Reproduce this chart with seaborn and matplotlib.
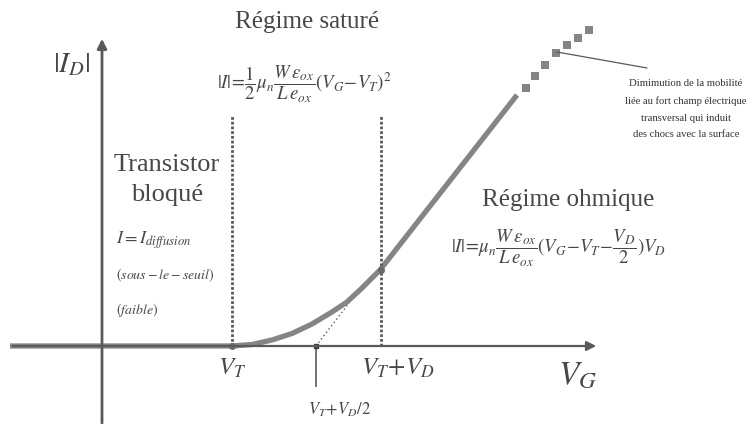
import matplotlib
matplotlib.use("Agg")
import matplotlib.pyplot as plt
import pandas as pd
import seaborn as sns

# |I_D| versus V_G for a MOS transistor (arbitrary units)
vg_curve = [-0.92, 1.30, 1.50, 1.70, 1.90, 2.10, 2.30, 2.45, 2.60, 2.78, 4.15]
id_curve = [0.00, 0.00, 0.015, 0.06, 0.125, 0.22, 0.34, 0.44, 0.58, 0.76, 2.51]

# high-field region: mobility degradation (drawn as dots)
vg_dots = [4.24, 4.33, 4.43, 4.54, 4.65, 4.76, 4.87]
id_dots = [2.58, 2.70, 2.81, 2.93, 3.01, 3.08, 3.16]

# characteristic gate voltages
v_t = 1.30          # V_T
v_t_vd = 2.79       # V_T + V_D
v_t_half = 2.14     # V_T + V_D/2
id_at_vtvd = 0.76

tick_labels = [r"$V_T$", r"$V_T\!+\!V_D$", r"$V_T\!+\!V_D/2$"]

sns.set_style("white")
plt.rcParams["font.family"] = ["Liberation Serif", "DejaVu Serif"]
plt.rcParams["mathtext.fontset"] = "stix"

TXT = "#474747"
AX = "#5a5a5a"
CURVE = "#858585"

fig = plt.figure(figsize=(7.52, 4.24), dpi=100)
ax = fig.add_axes([0, 0, 1, 1])
ax.set_xlim(-1.02, 6.50)
ax.set_ylim(-0.78, 3.46)
ax.axis("off")

# axes with arrow heads
ax.annotate("", xy=(0, 3.10), xytext=(0, -0.80),
            arrowprops=dict(arrowstyle="-|>", lw=2.0, color=AX, mutation_scale=14))
ax.annotate("", xy=(4.97, 0), xytext=(-0.92, 0),
            arrowprops=dict(arrowstyle="-|>", lw=1.6, color=AX, mutation_scale=14))

# characteristic curve
df_curve = pd.DataFrame({"VG": vg_curve, "ID": id_curve})
sns.lineplot(data=df_curve, x="VG", y="ID", ax=ax, color=CURVE, lw=3.8,
             sort=False, estimator=None, solid_capstyle="butt",
             solid_joinstyle="round")
df_dots = pd.DataFrame({"VG": vg_dots, "ID": id_dots})
sns.scatterplot(data=df_dots, x="VG", y="ID", ax=ax, color=CURVE, marker="s",
                s=28, linewidth=0)

# guide lines
ax.vlines([v_t, v_t_vd], 0, 2.31, colors=AX, linestyles=[(0, (1, 0.7))], lw=2.0)
ax.vlines(v_t_half, -0.41, 0, colors=AX, lw=1.2)
ax.plot([v_t_half, 2.47], [0, 0.43], ls=(0, (1, 2)), lw=1.0, color=AX)
ax.plot([v_t, v_t_vd], [0, id_at_vtvd], ls="none", marker="o", ms=4,
        color="#6a6a6a")
ax.plot([v_t_half], [0], ls="none", marker="s", ms=3.5, color="#3f3f3f")

# annotation pointer
ax.plot([4.55, 5.45], [2.94, 2.78], lw=0.9, color=AX)

# labels
ax.text(-0.30, 2.81, r"$|I_D|$", fontsize=21, color=TXT, ha="center", va="center")
ax.text(2.05, 3.24, "Régime saturé", fontsize=18, color=TXT, ha="center", va="center")
ax.text(2.02, 2.62,
        r"$|I|\!=\!\dfrac{1}{2}\mu_n\dfrac{W\,\varepsilon_{ox}}{L\,e_{ox}}(V_G\!-\!V_T)^2$",
        fontsize=13.5, color=TXT, ha="center", va="center")
ax.text(0.65, 1.81, "Transistor", fontsize=19, color=TXT, ha="center", va="center")
ax.text(0.65, 1.51, "bloqué", fontsize=19, color=TXT, ha="center", va="center")
ax.text(0.14, 1.06, r"$I=I_{diffusion}$", fontsize=13, color=TXT, ha="left", va="center")
ax.text(0.14, 0.71, r"$(sous-le-seuil)$", fontsize=10, color=TXT, ha="left", va="center")
ax.text(0.14, 0.36, r"$(faible)$", fontsize=10, color=TXT, ha="left", va="center")
ax.text(4.66, 1.46, "Régime ohmique", fontsize=18, color=TXT, ha="center", va="center")
ax.text(4.56, 0.98,
        r"$|I|\!=\!\mu_n\dfrac{W\,\varepsilon_{ox}}{L\,e_{ox}}(V_G\!-\!V_T\!-\!\dfrac{V_D}{2})V_D$",
        fontsize=13.5, color=TXT, ha="center", va="center")
ax.text(5.84, 2.37,
        "Dimimution de la mobilité\nliée au fort champ électrique\n"
        "transversal qui induit\ndes chocs avec la surface",
        fontsize=7.7, color="#333333", ha="center", va="center", linespacing=2.1)

ax.text(v_t, -0.22, tick_labels[0], fontsize=18, color=TXT, ha="center", va="center")
ax.text(2.96, -0.22, tick_labels[1], fontsize=18, color=TXT, ha="center", va="center")
ax.text(2.38, -0.64, tick_labels[2], fontsize=12, color=TXT, ha="center", va="center")
ax.text(4.76, -0.29, r"$V_G$", fontsize=24, color=TXT, ha="center", va="center")

fig.savefig("out.png", dpi=100, facecolor="white")
